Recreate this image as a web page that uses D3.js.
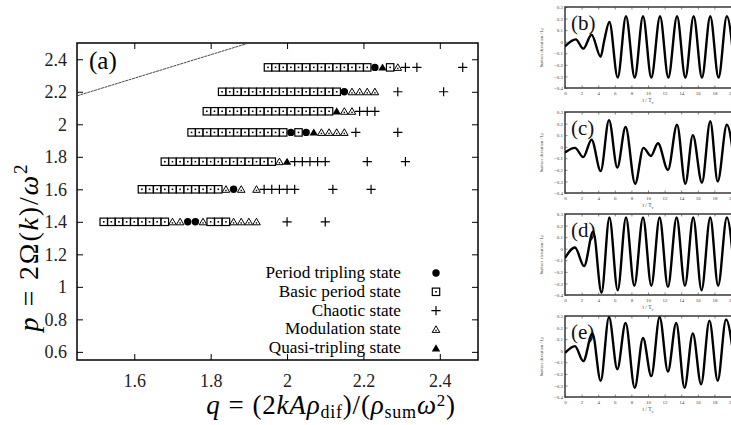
<!DOCTYPE html>
<html>
<head>
<meta charset="utf-8">
<script src="https://cdn.jsdelivr.net/npm/d3@7"></script>
<style>
  body { margin: 0; background: #fff; }
  svg { display: block; font-family: "Liberation Serif", "DejaVu Serif", serif; }
</style>
</head>
<body>
<svg id="chart" width="731" height="425"></svg>
<script>
// ---- Phase diagram (a): one p value per row, q positions per state ----
const rowP = [2.35, 2.2, 2.08, 1.95, 1.77, 1.6, 1.4];

const basicPeriod = [
  [1.95, 1.97, 1.99, 2.01, 2.03, 2.05, 2.07, 2.09, 2.11, 2.13, 2.15, 2.17, 2.19, 2.21, 2.27],
  [1.83, 1.85, 1.87, 1.89, 1.91, 1.93, 1.95, 1.97, 1.99, 2.01, 2.03, 2.05, 2.07, 2.09, 2.11, 2.13],
  [1.79, 1.81, 1.83, 1.85, 1.87, 1.89, 1.91, 1.93, 1.95, 1.97, 1.99, 2.01, 2.03, 2.05, 2.07, 2.09, 2.11],
  [1.75, 1.77, 1.79, 1.81, 1.83, 1.85, 1.87, 1.89, 1.91, 1.93, 1.95, 1.97, 1.99, 2.03],
  [1.68, 1.70, 1.72, 1.74, 1.76, 1.78, 1.80, 1.82, 1.84, 1.86, 1.88, 1.90, 1.92, 1.94, 1.96],
  [1.62, 1.64, 1.66, 1.68, 1.70, 1.72, 1.74, 1.76, 1.78, 1.80, 1.82],
  [1.52, 1.54, 1.56, 1.58, 1.60, 1.62, 1.64, 1.66, 1.68, 1.80, 1.82, 1.84]
];
const periodTripling = [[2.23], [2.15], [], [2.01, 2.05], [], [1.86], [1.74, 1.76]];
const quasiTripling  = [[2.25], [], [2.13], [2.07], [2.00], [], []];
const modulation = [
  [2.29],
  [2.17, 2.19, 2.21, 2.23],
  [2.15, 2.17],
  [2.09, 2.11, 2.13, 2.15],
  [1.98],
  [1.84, 1.88, 1.92],
  [1.70, 1.72, 1.78, 1.86, 1.88, 1.90, 1.92]
];
const chaotic = [
  [2.31, 2.34, 2.46],
  [2.29, 2.41],
  [2.19, 2.21, 2.23],
  [2.18, 2.29],
  [2.02, 2.04, 2.06, 2.08, 2.10, 2.21, 2.31],
  [1.94, 1.96, 1.98, 2.00, 2.02, 2.12, 2.22],
  [2.00, 2.10]
];
// boundary line in the upper left corner
const boundaryQ = [1.45, 1.9];
const boundaryP = [2.175, 2.5];

const xTicksA = [1.6, 1.8, 2, 2.2, 2.4];
const yTicksA = [0.6, 0.8, 1, 1.2, 1.4, 1.6, 1.8, 2, 2.2, 2.4];
const legendLabels = ['Period tripling state', 'Basic period state', 'Chaotic state',
                      'Modulation state', 'Quasi-tripling state'];
const legendKeys   = ['circle', 'square', 'plus', 'openTri', 'fillTri'];

// ---- Time series (b)-(e): surface deviation vs t/T_v ----
const panelNames = ['(b)', '(c)', '(d)', '(e)'];
const panelYLabels = ['Surface deviation / L', 'Surface deviation / L',
                      'Surface elevation / L', 'Surface deviation / L'];
const timeB = [0, 1.3, 2.2, 3.2, 4.3, 4.7, 5.35, 6.35, 7.35, 8.4, 9.4, 10.4, 11.45, 12.45, 13.5, 14.5, 15.5, 16.5, 17.5, 18.5, 19.5, 20.5];
const devB  = [-0.04, 0.02, -0.06, 0.06, -0.13, 0.0, 0.17, -0.31, 0.22, -0.31, 0.22, -0.31, 0.22, -0.31, 0.22, -0.31, 0.22, -0.31, 0.22, -0.31, 0.22, -0.3];
const timeC = [0, 1.2, 2.2, 3.2, 4.3, 5.3, 6.3, 7.3, 8.45, 9.45, 10.35, 11.2, 12.4, 13.5, 14.5, 15.4, 16.5, 17.5, 18.4, 19.5, 20.5];
const devC  = [-0.05, -0.01, -0.09, 0.06, -0.21, 0.23, -0.18, 0.17, -0.32, -0.01, -0.08, 0.03, -0.2, 0.19, -0.32, 0.1, -0.31, 0.22, -0.3, 0.19, -0.2];
const timeD = [0, 1.2, 2.3, 3.4, 4.4, 5.35, 6.35, 7.35, 8.35, 9.4, 10.4, 11.4, 12.4, 13.45, 14.45, 15.45, 16.45, 17.5, 18.45, 19.5, 20.5];
const devD  = [-0.08, 0.01, -0.15, 0.15, -0.38, 0.27, -0.36, 0.27, -0.32, 0.27, -0.32, 0.27, -0.33, 0.27, -0.32, 0.27, -0.36, 0.27, -0.32, 0.27, -0.3];
const timeE = [0, 1.2, 2.2, 3.3, 4.3, 5.3, 6.3, 7.3, 8.4, 9.4, 10.4, 11.4, 12.4, 13.4, 14.4, 15.4, 16.4, 17.4, 18.4, 19.4, 20.4];
const devE  = [-0.02, 0.04, -0.09, 0.15, -0.26, 0.29, -0.16, 0.24, -0.32, 0.11, -0.22, 0.29, -0.18, 0.24, -0.32, 0.15, -0.29, 0.26, -0.26, 0.27, -0.1];
const xTicksT = [0, 2, 4, 6, 8, 10, 12, 14, 16, 18, 20];
const yTicksT = [-0.4, -0.3, -0.2, -0.1, 0, 0.1, 0.2, 0.3];

let svg = d3.select('#chart');

// ================= panel (a) =================
let A = { left: 77, top: 43, right: 478, bottom: 360 },
    x = d3.scaleLinear().domain([1.45, 2.5]).range([A.left, A.right]),
    y = d3.scaleLinear().domain([0.55, 2.5]).range([A.bottom, A.top]);

svg.append('clipPath').attr('id', 'clipA')
  .append('rect').attr('x', A.left).attr('y', A.top)
  .attr('width', A.right - A.left).attr('height', A.bottom - A.top);

// axes with inward ticks on all four sides
let tickLen = 6;
svg.append('g').attr('transform', `translate(0,${A.bottom})`)
  .call(d3.axisBottom(x).tickValues(xTicksA).tickSize(-tickLen).tickPadding(14).tickFormat(d3.format('')));
svg.append('g').attr('transform', `translate(0,${A.top})`)
  .call(d3.axisTop(x).tickValues(xTicksA).tickSize(-tickLen).tickFormat(''));
svg.append('g').attr('transform', `translate(${A.left},0)`)
  .call(d3.axisLeft(y).tickValues(yTicksA).tickSize(-tickLen).tickPadding(10).tickFormat(d3.format('')));
svg.append('g').attr('transform', `translate(${A.right},0)`)
  .call(d3.axisRight(y).tickValues(yTicksA).tickSize(-tickLen).tickFormat(''));
svg.selectAll('.domain').remove();
svg.selectAll('.tick line').attr('stroke', '#000').attr('stroke-width', 1);
svg.selectAll('.tick text').attr('font-size', 18).attr('fill', '#222')
  .attr('font-family', '"Liberation Serif", serif');

svg.append('rect')
  .attr('x', A.left).attr('y', A.top)
  .attr('width', A.right - A.left).attr('height', A.bottom - A.top)
  .attr('fill', 'none').attr('stroke', '#000').attr('stroke-width', 1.5);

// boundary line
svg.append('path')
  .datum(boundaryQ.map((q, i) => [q, boundaryP[i]]))
  .attr('clip-path', 'url(#clipA)')
  .attr('d', d3.line().x(d => x(d[0])).y(d => y(d[1])))
  .attr('fill', 'none').attr('stroke', '#333').attr('stroke-width', 0.9)
  .attr('stroke-dasharray', '3,0.6');

// marker drawing helpers
const drawMarker = (g, kind) => {
  if (kind === 'square') {
    g.append('rect').attr('x', -3.7).attr('y', -3.7).attr('width', 7.4).attr('height', 7.4)
      .attr('fill', '#fff').attr('stroke', '#000').attr('stroke-width', 1.2);
    g.append('rect').attr('x', -0.8).attr('y', -0.8).attr('width', 1.6).attr('height', 1.6).attr('fill', '#000');
  } else if (kind === 'circle') {
    g.append('circle').attr('r', 3.7).attr('fill', '#000');
  } else if (kind === 'plus') {
    g.append('path').attr('d', 'M-4.6,0H4.6M0,-4.6V4.6').attr('stroke', '#000').attr('stroke-width', 1.2);
  } else if (kind === 'openTri') {
    g.append('path').attr('d', 'M0,-3.6L3.8,3L-3.8,3Z')
      .attr('fill', '#fff').attr('stroke', '#000').attr('stroke-width', 1);
    g.append('rect').attr('x', -0.7).attr('y', 0.4).attr('width', 1.4).attr('height', 1.4).attr('fill', '#000');
  } else if (kind === 'fillTri') {
    g.append('path').attr('d', 'M0,-4L4.2,3.2L-4.2,3.2Z').attr('fill', '#000');
  }
};

const drawState = (rows, kind) => {
  let pts = [];
  rows.forEach((qs, i) => qs.forEach(q => pts.push([q, rowP[i]])));
  svg.append('g').selectAll('g').data(pts).join('g')
    .attr('transform', d => `translate(${x(d[0])},${y(d[1])})`)
    .each(function () { drawMarker(d3.select(this), kind); });
};

drawState(basicPeriod, 'square');
drawState(modulation, 'openTri');
drawState(chaotic, 'plus');
drawState(quasiTripling, 'fillTri');
drawState(periodTripling, 'circle');

// panel label
svg.append('text').attr('x', 89).attr('y', 69).attr('font-size', 25).text('(a)');

// legend
let legend = svg.append('g');
legendLabels.forEach((lab, i) => {
  let ly = 273 + i * 18.8;
  legend.append('text').attr('x', 401).attr('y', ly + 5).attr('text-anchor', 'end')
    .attr('font-size', 17.2).text(lab);
  drawMarker(legend.append('g').attr('transform', `translate(436,${ly})`), legendKeys[i]);
});

// axis titles (math set in italic serif)
let xt = svg.append('text').attr('x', 331).attr('y', 414).attr('text-anchor', 'middle')
  .attr('font-size', 27).attr('letter-spacing', 0.8);
xt.append('tspan').attr('font-style', 'italic').text('q');
xt.append('tspan').attr('dx', 8).text('=');
xt.append('tspan').attr('dx', 8).text('(2');
xt.append('tspan').attr('font-style', 'italic').text('kAρ');
xt.append('tspan').attr('font-size', 18).attr('dy', 4).text('dif');
xt.append('tspan').attr('dy', -4).text(')/(');
xt.append('tspan').attr('font-style', 'italic').text('ρ');
xt.append('tspan').attr('font-size', 18).attr('dy', 4).text('sum');
xt.append('tspan').attr('dy', -4).attr('font-style', 'italic').text('ω');
xt.append('tspan').attr('font-size', 17).attr('dy', -8).text('2');
xt.append('tspan').attr('dy', 8).text(')');

let yt = svg.append('text').attr('transform', 'translate(38,247) rotate(-90)')
  .attr('text-anchor', 'middle').attr('font-size', 28).attr('letter-spacing', 1.8);
yt.append('tspan').attr('font-style', 'italic').text('p');
yt.append('tspan').attr('dx', 9).text('=');
yt.append('tspan').attr('dx', 9).text('2Ω(');
yt.append('tspan').attr('font-style', 'italic').text('k');
yt.append('tspan').text(')/');
yt.append('tspan').attr('font-style', 'italic').text('ω');
yt.append('tspan').attr('font-size', 19).attr('dy', -11).text('2');

// ================= panels (b)-(e) =================
const panelTops = [7, 112, 214, 316];
const panelH = 81;
const series = [[timeB, devB], [timeC, devC], [timeD, devD], [timeE, devE]];

series.forEach((s, i) => {
  let top = panelTops[i],
      px = d3.scaleLinear().domain([0, 20]).range([565, 731]),
      py = d3.scaleLinear().domain([-0.4, 0.3]).range([top + panelH, top]),
      g = svg.append('g');

  g.append('clipPath').attr('id', 'clipP' + i)
    .append('rect').attr('x', 565).attr('y', top).attr('width', 170).attr('height', panelH);

  // ticks and labels
  g.append('g').attr('transform', `translate(0,${top + panelH})`)
    .call(d3.axisBottom(px).tickValues(xTicksT).tickSize(-2.5).tickPadding(3));
  g.append('g').attr('transform', `translate(0,${top})`)
    .call(d3.axisTop(px).tickValues(xTicksT).tickSize(-2.5).tickFormat(''));
  g.append('g').attr('transform', 'translate(565,0)')
    .call(d3.axisLeft(py).tickValues(yTicksT).tickSize(-2.5).tickPadding(2).tickFormat(d3.format('')));
  g.selectAll('.domain').remove();
  g.selectAll('.tick line').attr('stroke', '#333').attr('stroke-width', 0.6);
  g.selectAll('.tick text').attr('font-size', 5).attr('fill', '#444')
    .attr('font-family', '"Liberation Serif", serif');

  g.append('rect').attr('x', 565).attr('y', top).attr('width', 168).attr('height', panelH)
    .attr('fill', 'none').attr('stroke', '#444').attr('stroke-width', 1.6);

  // x label t / T_v
  let xl = g.append('text').attr('x', 648).attr('y', top + panelH + 14)
    .attr('text-anchor', 'middle').attr('font-size', 5.5).attr('fill', '#444');
  xl.append('tspan').text('t / T');
  xl.append('tspan').attr('font-size', 4).attr('dy', 1.5).text('v');

  // y label
  let yl = g.append('text').attr('transform', `translate(543,${top + panelH / 2}) rotate(-90)`)
    .attr('text-anchor', 'middle').attr('font-size', 4.5).attr('fill', '#444');
  yl.append('tspan').text(panelYLabels[i]);
  yl.append('tspan').attr('font-size', 3.5).attr('dy', 1.2).text('0');

  g.append('text').attr('x', 571).attr('y', top + 23).attr('font-size', 21).attr('fill', '#111')
    .text(panelNames[i]);

  g.append('path')
    .datum(s[0].map((t, k) => [t, s[1][k]]))
    .attr('clip-path', `url(#clipP${i})`)
    .attr('d', d3.line().x(d => px(d[0])).y(d => py(d[1])).curve(d3.curveMonotoneX))
    .attr('fill', 'none').attr('stroke', '#000').attr('stroke-width', 2.4)
    .attr('stroke-linejoin', 'round');
});
</script>
</body>
</html>
